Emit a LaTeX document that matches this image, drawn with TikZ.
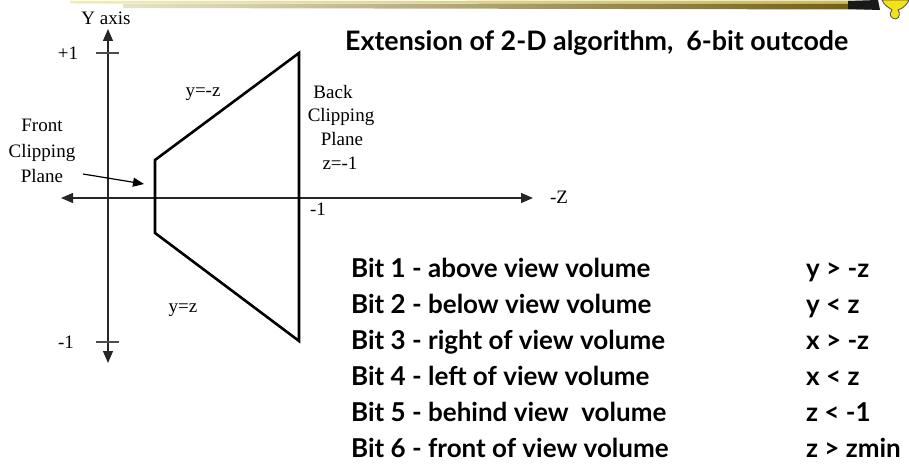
\documentclass[tikz,border=0pt]{standalone}
\usepackage{fontspec}
\setmainfont{Liberation Serif}
\newfontfamily\comic{Lato}
\usetikzlibrary{arrows.meta}
\definecolor{barlight}{HTML}{F2EDB8}
\definecolor{barmid}{HTML}{C9B860}
\definecolor{bardark}{HTML}{6E5E12}
\definecolor{barbeige}{HTML}{E8E2CC}
\definecolor{pinyellow}{HTML}{F2E21A}
\tikzset{
  axis/.style={line width=1.3pt, draw=black!85, -{Triangle[length=12pt,width=10pt]}},
  tickmark/.style={line width=1.4pt, draw=black!70},
  plane/.style={line width=2.6pt, line join=miter},
  lbl/.style={font=\fontsize{19}{21}\selectfont, inner sep=0pt, anchor=base},
  bittext/.style={font=\comic\bfseries\fontsize{26}{28}\selectfont, inner sep=0pt, anchor=base west},
  titletext/.style={font=\comic\bfseries\fontsize{26.8}{28}\selectfont, inner sep=0pt, anchor=base west},
}
\begin{document}
\begin{tikzpicture}[x=1pt,y=-1pt]
\useasboundingbox (0,0) rectangle (909,470);
% header bar
\shade[left color=barlight, right color=barmid] (70,1) -- (875,0.5) -- (875,4) -- (70,3.5) -- cycle;
\shade[left color=barbeige, right color=bardark] (123,4) -- (870,4) -- (870,9.5) -- (123,8) -- cycle;
\fill[black!90] (848,1) -- (878,0) -- (880,10) -- (848,9) -- cycle;
\fill[pinyellow, draw=black!70, line width=0.8pt] (882,0) .. controls (884,6) and (890,8) .. (892,10) .. controls (888,14) and (891,19) .. (896,19) .. controls (900,18) and (900,12) .. (898,10) .. controls (904,8) and (907,4) .. (909,0) -- cycle;
% axes
\coordinate (ybot) at (108,363);
\coordinate (ytop) at (108,29);
\coordinate (zl) at (61,198);
\coordinate (zr) at (533,198);
\coordinate (ymid) at (108,198);
\draw[axis] (ymid) -- (ytop);
\draw[axis] (ymid) -- (ybot);
\draw[axis] (ymid) -- (zl);
\draw[axis] (ymid) -- (zr);
% ticks
\coordinate (tpa) at (96,53); \coordinate (tpb) at (119,53);
\coordinate (tma) at (96,342); \coordinate (tmb) at (119,342);
\draw[tickmark] (tpa) -- (tpb);
\draw[tickmark] (tma) -- (tmb);
% view volume
\coordinate (ft) at (155,160);
\coordinate (bt) at (299,53);
\coordinate (bb) at (299,341);
\coordinate (fb) at (155,233);
\draw[plane] (ft) -- (bt) -- (bb) -- (fb) -- cycle;
% labels
\node[lbl] (yaxis) at (106,25) {Y axis};
\node[lbl] (plus1) at (68,60) {+1};
\node[lbl] (minus1) at (66,348) {-1};
\node[lbl] (zlabel) at (559,204) {-Z};
\node[lbl] (zminus1) at (318,215) {-1};
\node[lbl] (ynegz) at (203,97) {y=-z};
\node[lbl] (yz) at (183,312) {y=z};
\node[lbl] (front1) at (42,132) {Front};
\node[lbl] (front2) at (42,158) {Clipping};
\node[lbl] (front3) at (42,183) {Plane};
\node[lbl] (back1) at (333,99) {Back};
\node[lbl] (back2) at (341,122) {Clipping};
\node[lbl] (back3) at (342,146) {Plane};
\node[lbl] (back4) at (340,170) {z=-1};
\coordinate (fpa) at (83,174);
\coordinate (fpb) at (144,184);
\draw[line width=1.2pt, -{Triangle[length=11pt,width=9pt]}] (fpa) -- (fpb);
% title
\node[titletext] (title) at (345,51) {Extension of 2-D algorithm,\ \ 6-bit outcode};
% bits
\node[bittext] (b1) at (351,277) {Bit 1 - above view volume};
\node[bittext] (b2) at (351,313.5) {Bit 2 - below view volume};
\node[bittext] (b3) at (351,349.5) {Bit 3 - right of view volume};
\node[bittext] (b4) at (351,385) {Bit 4 - left of view volume};
\node[bittext] (b5) at (351,421) {Bit 5 - behind view\ \ volume};
\node[bittext] (b6) at (351,457) {Bit 6 - front of view volume};
\node[bittext] (c1) at (806,277) {y > -z};
\node[bittext] (c2) at (806,313.5) {y < z};
\node[bittext] (c3) at (806,349.5) {x > -z};
\node[bittext] (c4) at (806,385) {x < z};
\node[bittext] (c5) at (806,421) {z < -1};
\node[bittext] (c6) at (806,457) {z > zmin};
\end{tikzpicture}
\end{document}
